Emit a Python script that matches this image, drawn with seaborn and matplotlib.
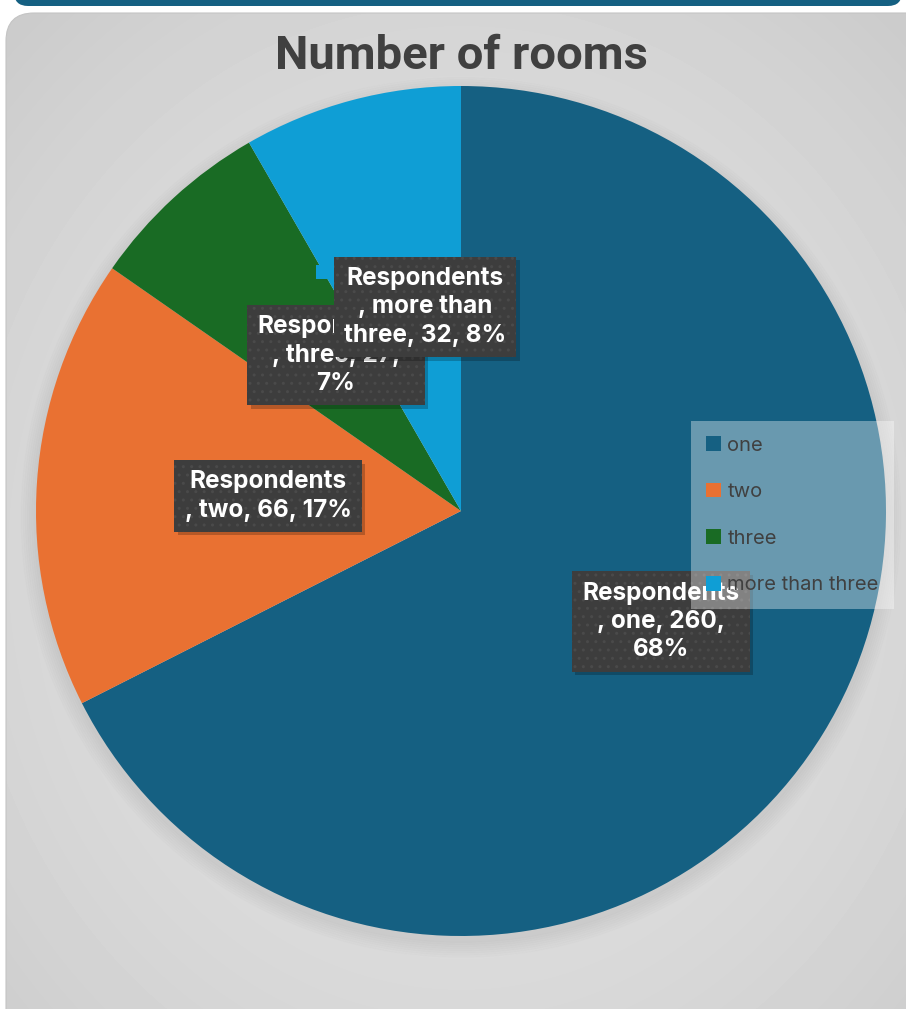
import numpy as np
import matplotlib
matplotlib.use("Agg")
import matplotlib.pyplot as plt
from matplotlib.patches import FancyBboxPatch, Rectangle
import seaborn as sns

# ---- data ----
categories = ["one", "two", "three", "more than three"]
respondents = [260, 66, 27, 32]
series_name = "Respondents"
title = "Number of rooms"
colors = ["#156082", "#E97132", "#196B24", "#0F9ED5"]

sns.set_style("white")
plt.rcParams["font.family"] = ["Inter", "DejaVu Sans"]

W, H = 906, 1009
fig = plt.figure(figsize=(W / 100, H / 100), dpi=100)
fig.patch.set_facecolor("white")

# background axes in pixel coordinates
bg = fig.add_axes([0, 0, 1, 1])
bg.set_xlim(0, W)
bg.set_ylim(H, 0)
bg.axis("off")

# top dark band
band = FancyBboxPatch((14, -40), 888, 46, boxstyle="round,pad=0,rounding_size=14",
                      facecolor="#156082", edgecolor="none", zorder=1)
bg.add_patch(band)

# grey panel with radial gradient
panel = FancyBboxPatch((6, 13), 940, 1040, boxstyle="round,pad=0,rounding_size=28",
                       facecolor="none", edgecolor="#c4c4c4", linewidth=0.8, zorder=3)
bg.add_patch(panel)
yy, xx = np.mgrid[0:H, 0:W]
r = np.sqrt(((xx - 461) / 640.0) ** 2 + ((yy - 560) / 720.0) ** 2)
grad = 0.88 - 0.08 * np.clip(r, 0, 1.0) ** 2
im = bg.imshow(grad, cmap="gray", vmin=0, vmax=1, extent=(0, W, H, 0), zorder=2,
               interpolation="bilinear")
im.set_clip_path(panel)

# title
bg.text(461, 56, title, ha="center", va="center", fontsize=34, fontweight="bold",
        color="#404040", family=["Roboto", "DejaVu Sans"], zorder=5)

# pie axes: center (461, 511), radius 425 px
cx, cy, R = 461, 511, 425
ax = fig.add_axes([(cx - R) / W, (H - cy - R) / H, 2 * R / W, 2 * R / H])
ax.set_facecolor("none")
ax.patch.set_alpha(0)

# soft shadow, mostly below the pie
for k in range(8):
    sh = plt.Circle((0, -0.015), 1.0 + 0.005 * k, color="black", alpha=0.008, zorder=0,
                    clip_on=False)
    ax.add_patch(sh)

wedges, _ = ax.pie(respondents, colors=colors, startangle=90, counterclock=False,
                   radius=1.0, wedgeprops=dict(linewidth=0))
ax.set_xlim(-1, 1)
ax.set_ylim(-1, 1)
ax.set_aspect("auto")
ax.axis("off")

total = sum(respondents)
label_pos = [(0.47, -0.26), (-0.454, 0.035), (-0.294, 0.367), (-0.085, 0.48)]
label_texts = []
for cat, val in zip(categories, respondents):
    pct = round(100 * val / total)
    if cat == "one":
        t = f"{series_name}\n, {cat}, {val},\n{pct}%"
    elif cat == "two":
        t = f"{series_name}\n, {cat}, {val}, {pct}%"
    elif cat == "three":
        t = f"{series_name}\n, {cat}, {val},\n{pct}%"
    else:
        t = f"{series_name}\n, more than\nthree, {val}, {pct}%"
    label_texts.append(t)

FS = 17.5
for i, ((x, y), t) in enumerate(zip(label_pos, label_texts)):
    # drop shadow
    ax.text(x + 0.008, y - 0.008, t, ha="center", va="center", fontsize=FS,
            fontweight="bold", color="none", linespacing=1.3, zorder=10 + 2 * i,
            bbox=dict(boxstyle="square,pad=0.42", facecolor="black", alpha=0.22,
                      edgecolor="none"))
    ax.text(x, y, t, ha="center", va="center", fontsize=FS, fontweight="bold",
            color="white", linespacing=1.3, zorder=11 + 2 * i,
            bbox=dict(boxstyle="square,pad=0.42", facecolor="#3d3d3d",
                      edgecolor="#4a4a4a", hatch="..", linewidth=0))

# small legend key shown with the last label
ax.add_patch(Rectangle((-0.342, 0.545), 0.032, 0.034, facecolor=colors[3],
                       edgecolor="none", zorder=9))

leg = fig.legend(wedges, categories, loc="upper left",
                 bbox_to_anchor=(691 / W, 1 - 421 / H), frameon=True, fancybox=False,
                 fontsize=14.5, labelcolor="#404040", handlelength=0.75, handleheight=0.75,
                 handletextpad=0.3, labelspacing=1.4, borderpad=0.75, borderaxespad=0,
                 facecolor="white", framealpha=0.36, edgecolor="none")
leg.set_zorder(20)

fig.savefig("out.png", dpi=100)
